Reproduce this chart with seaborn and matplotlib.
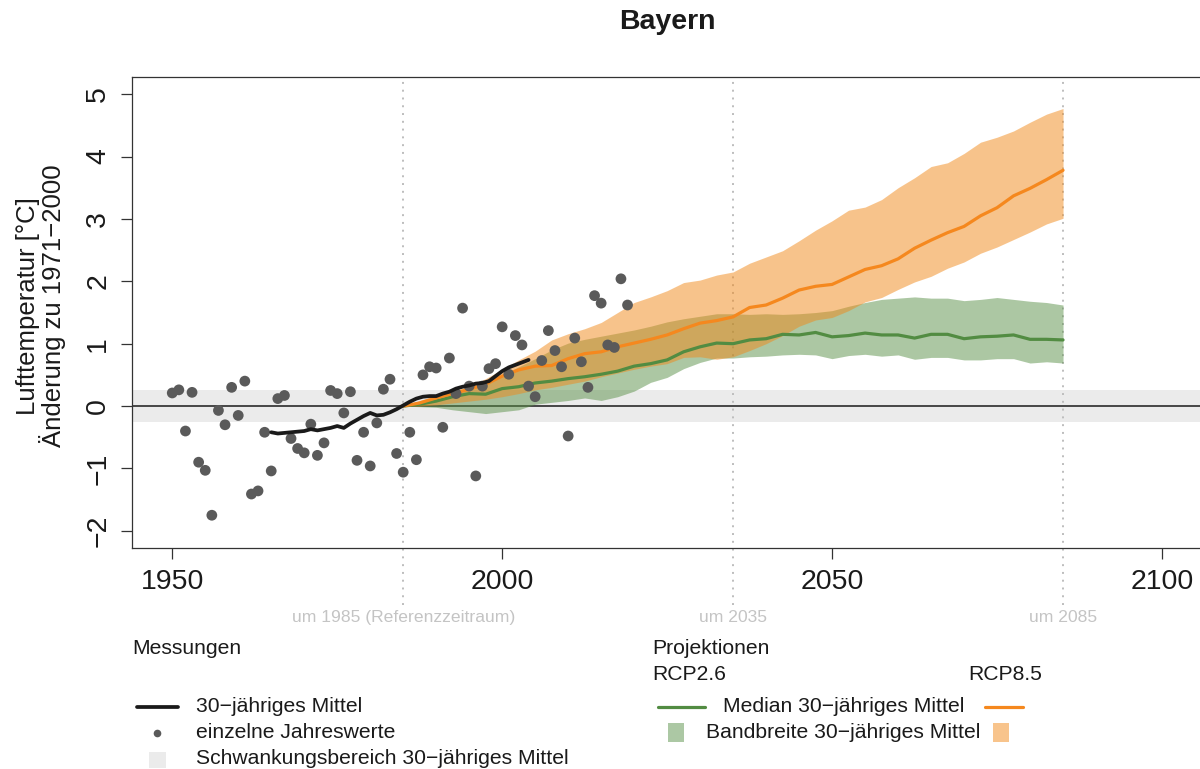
import numpy as np
import pandas as pd
import matplotlib
matplotlib.use("Agg")
import matplotlib.pyplot as plt
from matplotlib.lines import Line2D
from matplotlib.patches import Rectangle
import matplotlib.transforms as mtransforms
import seaborn as sns

# measured yearly values (change vs 1971-2000)
obs_years = list(range(1950, 2020))
obs_values = [0.21, 0.26, -0.40, 0.22, -0.90, -1.03, -1.75, -0.07, -0.30, 0.30,
              -0.15, 0.40, -1.41, -1.36, -0.42, -1.04, 0.12, 0.17, -0.52, -0.68,
              -0.75, -0.29, -0.79, -0.59, 0.25, 0.20, -0.11, 0.23, -0.87, -0.42,
              -0.96, -0.27, 0.27, 0.43, -0.76, -1.06, -0.42, -0.86, 0.50, 0.63,
              0.61, -0.34, 0.77, 0.20, 1.57, 0.32, -1.12, 0.32, 0.60, 0.68,
              1.27, 0.51, 1.13, 0.98, 0.32, 0.15, 0.73, 1.21, 0.89, 0.63,
              -0.48, 1.09, 0.71, 0.30, 1.77, 1.65, 0.98, 0.94, 2.04, 1.62]

# 30-year running mean of the measurements
mean_years = list(range(1965, 2005))
mean_values = [-0.42, -0.44, -0.43, -0.42, -0.41, -0.40, -0.37, -0.39, -0.37, -0.35,
               -0.32, -0.35, -0.28, -0.22, -0.16, -0.11, -0.15, -0.14, -0.10, -0.05,
               0.01, 0.07, 0.12, 0.15, 0.16, 0.16, 0.20, 0.23, 0.28, 0.31,
               0.33, 0.36, 0.37, 0.40, 0.48, 0.56, 0.62, 0.66, 0.70, 0.74]

# projections, 30-year mean
proj_years = [1985, 1987.5, 1990, 1992.5, 1995, 1997.5, 2000, 2002.5, 2005, 2007.5,
              2010, 2012.5, 2015, 2017.5, 2020, 2022.5, 2025, 2027.5, 2030, 2032.5,
              2035, 2037.5, 2040, 2042.5, 2045, 2047.5, 2050, 2052.5, 2055, 2057.5,
              2060, 2062.5, 2065, 2067.5, 2070, 2072.5, 2075, 2077.5, 2080, 2082.5, 2085]
rcp85_median = [0.0, 0.05, 0.13, 0.20, 0.27, 0.35, 0.48, 0.58, 0.64, 0.65,
                0.76, 0.84, 0.87, 0.95, 1.01, 1.07, 1.14, 1.24, 1.33, 1.37,
                1.43, 1.58, 1.62, 1.73, 1.86, 1.92, 1.95, 2.07, 2.19, 2.25,
                2.36, 2.53, 2.66, 2.78, 2.88, 3.05, 3.18, 3.37, 3.49, 3.63, 3.78]
rcp85_high = [0.0, 0.09, 0.17, 0.24, 0.32, 0.44, 0.59, 0.74, 0.88, 1.06,
              1.16, 1.24, 1.34, 1.50, 1.66, 1.75, 1.85, 1.98, 2.02, 2.10,
              2.15, 2.29, 2.39, 2.49, 2.65, 2.82, 2.97, 3.14, 3.19, 3.31,
              3.50, 3.66, 3.84, 3.90, 4.05, 4.23, 4.31, 4.41, 4.55, 4.68, 4.77]
rcp85_low = [0.0, 0.00, 0.02, 0.05, 0.08, 0.11, 0.15, 0.20, 0.26, 0.30,
             0.35, 0.40, 0.47, 0.53, 0.59, 0.64, 0.68, 0.78, 0.79, 0.75,
             0.79, 0.89, 1.00, 1.13, 1.28, 1.38, 1.42, 1.53, 1.67, 1.74,
             1.87, 1.99, 2.08, 2.21, 2.31, 2.45, 2.55, 2.67, 2.79, 2.92, 3.01]
rcp26_median = [0.0, 0.03, 0.08, 0.15, 0.20, 0.19, 0.28, 0.31, 0.37, 0.40,
                0.44, 0.47, 0.51, 0.56, 0.64, 0.68, 0.74, 0.87, 0.95, 1.01,
                1.00, 1.06, 1.08, 1.15, 1.14, 1.18, 1.11, 1.13, 1.17, 1.14,
                1.14, 1.09, 1.15, 1.15, 1.08, 1.11, 1.12, 1.14, 1.07, 1.07, 1.06]
rcp26_high = [0.0, 0.07, 0.14, 0.21, 0.29, 0.39, 0.50, 0.63, 0.76, 0.90,
              1.01, 1.07, 1.12, 1.17, 1.22, 1.28, 1.35, 1.40, 1.44, 1.48,
              1.48, 1.47, 1.48, 1.47, 1.48, 1.50, 1.53, 1.60, 1.66, 1.71,
              1.73, 1.75, 1.73, 1.73, 1.69, 1.71, 1.74, 1.71, 1.68, 1.66, 1.62]
rcp26_low = [0.0, -0.01, -0.02, -0.06, -0.09, -0.12, -0.09, -0.06, 0.03, 0.06,
             0.09, 0.13, 0.09, 0.15, 0.24, 0.38, 0.46, 0.60, 0.70, 0.77,
             0.77, 0.79, 0.80, 0.82, 0.83, 0.82, 0.76, 0.81, 0.83, 0.80,
             0.82, 0.75, 0.78, 0.78, 0.74, 0.74, 0.76, 0.76, 0.69, 0.71, 0.69]

ref_years = [1985, 2035, 2085]
ref_labels = ["um 1985 (Referenzzeitraum)", "um 2035", "um 2085"]
spread = 0.26

obs = pd.DataFrame({"Jahr": obs_years, "Wert": obs_values})
mean = pd.DataFrame({"Jahr": mean_years, "Wert": mean_values})
proj = pd.DataFrame({"Jahr": proj_years,
                     "rcp85": rcp85_median, "rcp85_hi": rcp85_high, "rcp85_lo": rcp85_low,
                     "rcp26": rcp26_median, "rcp26_hi": rcp26_high, "rcp26_lo": rcp26_low})

sns.set_theme(style="white")
plt.rcParams["font.family"] = ["Liberation Sans", "DejaVu Sans"]

W, H = 1200, 769
fig = plt.figure(figsize=(12, 7.69), dpi=100)
ax = fig.add_axes([132 / W, 1 - 548.3 / H, (1201.6 - 132) / W, (548.3 - 76.7) / H])

# helper: pixel -> figure fraction
def fx(px):
    return px / W

def fy(py):
    return 1 - py / H

green = "#528c42"
orange = "#f5881e"
green_band = "#5a9148"
orange_band = "#f18919"
gray_band = "#ebebeb"

ax.axhspan(-spread, spread, color=gray_band, zorder=0, lw=0)
ax.axhline(0, color="#2a2a2a", lw=1.2, zorder=1)
for yr in ref_years:
    ax.axvline(yr, ymin=-0.12, ymax=1, color="#bdbdbd", lw=1.4, ls=(0, (1, 3)),
               clip_on=False, zorder=1)

ax.fill_between(proj["Jahr"], proj["rcp26_lo"], proj["rcp26_hi"], color=green_band,
                alpha=0.5, lw=0, zorder=2)
ax.fill_between(proj["Jahr"], proj["rcp85_lo"], proj["rcp85_hi"], color=orange_band,
                alpha=0.5, lw=0, zorder=2)

sns.lineplot(data=proj, x="Jahr", y="rcp26", color=green, lw=2.3, ax=ax, zorder=3)
sns.lineplot(data=proj, x="Jahr", y="rcp85", color=orange, lw=2.3, ax=ax, zorder=3)
sns.scatterplot(data=obs, x="Jahr", y="Wert", color="#5a5a5a", s=60, edgecolor="none",
                ax=ax, zorder=4)
sns.lineplot(data=mean, x="Jahr", y="Wert", color="#1a1a1a", lw=2.7, ax=ax, zorder=5)

ax.set_xlim(1943.9, 2106.0)
ax.set_ylim(-2.28, 5.28)
ax.set_xticks([1950, 2000, 2050, 2100])
ax.set_yticks([-2, -1, 0, 1, 2, 3, 4, 5])
ax.tick_params(axis="both", direction="out", length=8, width=0.9, color="#333333",
               labelsize=20.5, labelcolor="#1a1a1a", left=True, bottom=True, pad=7)
for lab in ax.get_yticklabels():
    lab.set_rotation(90)
    lab.set_va("center")
ax.set_xlabel("")
ax.set_ylabel("")
for side in ["top", "left", "bottom"]:
    ax.spines[side].set_color("#333333")
    ax.spines[side].set_linewidth(0.9)
ax.spines["right"].set_visible(False)

fig.text(fx(667), fy(22), "Bayern", ha="center", va="center", fontsize=20.5,
         fontweight="bold", color="#1a1a1a")
fig.text(fx(41), fy(306), "Lufttemperatur [°C]\nÄnderung zu 1971−2000", rotation=90,
         ha="center", va="center", multialignment="center", fontsize=18.5,
         linespacing=1.0, color="#1a1a1a")

trans = mtransforms.blended_transform_factory(ax.transData, ax.transAxes)
for yr, txt in zip(ref_years, ref_labels):
    ax.text(yr, -0.146, txt, transform=trans, ha="center", va="center",
            fontsize=12.6, color="#c4c4c4", clip_on=False)

# legend, laid out by hand
lg = 15.2
tc = "#1a1a1a"
fig.text(fx(132), fy(648), "Messungen", ha="left", va="center", fontsize=lg, color=tc)
fig.text(fx(652), fy(648), "Projektionen", ha="left", va="center", fontsize=lg, color=tc)
fig.text(fx(652), fy(675), "RCP2.6", ha="left", va="center", fontsize=lg, color=tc)
fig.text(fx(968), fy(675), "RCP8.5", ha="left", va="center", fontsize=lg, color=tc)

fig.add_artist(Line2D([fx(137), fx(178)], [fy(707), fy(707)], color="#1a1a1a", lw=2.7))
fig.text(fx(196), fy(707), "30−jähriges Mittel", ha="left", va="center", fontsize=lg, color=tc)
fig.add_artist(Line2D([fx(157)], [fy(733)], marker="o", ms=5.5, color="#5a5a5a", mec="none"))
fig.text(fx(196), fy(733), "einzelne Jahreswerte", ha="left", va="center", fontsize=lg, color=tc)
fig.add_artist(Rectangle((fx(149), fy(768)), fx(17), 16 / H, color=gray_band, lw=0))
fig.text(fx(196), fy(758), "Schwankungsbereich 30−jähriges Mittel", ha="left",
         va="center", fontsize=lg, color=tc)

fig.add_artist(Line2D([fx(658), fx(705)], [fy(707), fy(707)], color=green, lw=2.3))
fig.text(fx(723), fy(707), "Median 30−jähriges Mittel", ha="left", va="center", fontsize=lg, color=tc)
fig.add_artist(Line2D([fx(985), fx(1023)], [fy(707), fy(707)], color=orange, lw=2.3))
fig.add_artist(Rectangle((fx(668), fy(742)), fx(16), 19 / H, color="#acc8a4", lw=0))
fig.text(fx(706), fy(732), "Bandbreite 30−jähriges Mittel", ha="left", va="center",
         fontsize=lg, color=tc)
fig.add_artist(Rectangle((fx(993), fy(742)), fx(16), 19 / H, color="#f8c48c", lw=0))

fig.savefig("out.png", dpi=100)
